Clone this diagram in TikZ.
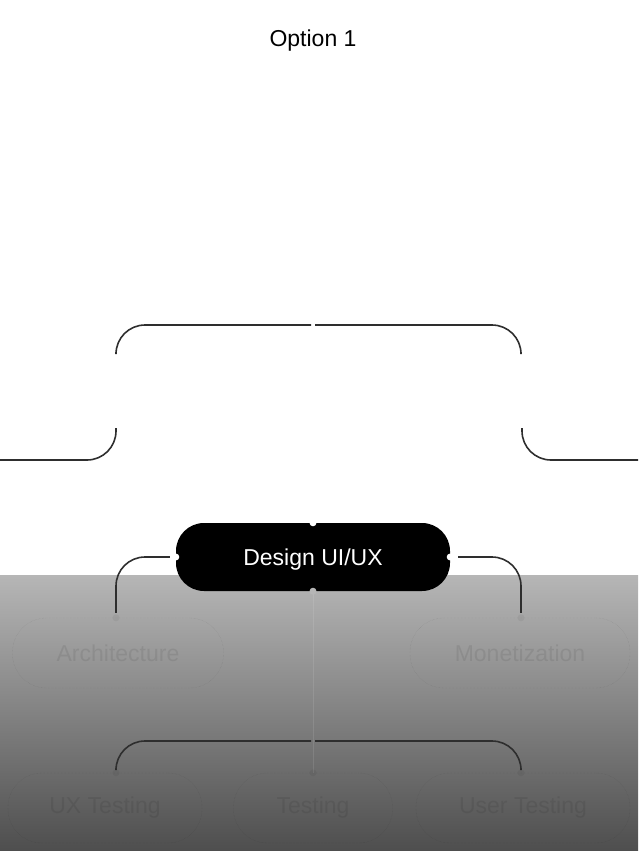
\documentclass[tikz,border=0pt]{standalone}
\usepackage{fontspec}
\setmainfont{Liberation Sans}
\usepackage{tikz}
\usetikzlibrary{positioning}
\definecolor{linegray}{HTML}{2E2E2E}
\definecolor{fadetop}{HTML}{B6B6B6}
\definecolor{fadebot}{HTML}{4E4E4E}

\begin{document}
\begin{tikzpicture}[x=1pt,y=-1pt]
		\tikzset{pill/.style = {shape=rectangle, rounded corners=28pt, fill=black, text=white,
				minimum width=274pt, minimum height=68pt, font=\fontsize{23}{26}\selectfont}}
		\tikzset{ghost/.style = {shape=rectangle, rounded corners=34pt, draw=black, densely dotted,
				draw opacity=.12, text opacity=.08, minimum height=70pt, font=\fontsize{23}{26}\selectfont}}
		\tikzset{edge/.style = {draw=linegray, line width=1.6pt, rounded corners=29pt}}
		\tikzset{notch/.style = {shape=circle, fill=white, inner sep=0pt, minimum size=7pt}}
		\useasboundingbox (0,0) rectangle (638,851);
		% fade
		\shade[top color=fadetop, bottom color=fadebot] (0,575) rectangle (638,851);
		% vertices
		\node[font=\fontsize{23}{26}\selectfont] (title) at (313,41) {Option 1};
		\node[pill, text depth=0pt] (design) at (313,557) {Design UI/UX};
		\node[ghost, minimum width=211pt] (arch) at (118,653) {Architecture};
		\node[ghost, minimum width=220pt] (monet) at (520,653) {Monetization};
		\node[ghost, minimum width=194pt] (uxt) at (105,808) {UX Testing};
		\node[ghost, minimum width=159pt] (test) at (313,808) {Testing};
		\node[ghost, minimum width=214pt] (usert) at (523,808) {User Testing};
		\coordinate (hub) at (313,325);
		\coordinate (upL) at (116,352);
		\coordinate (upR) at (521,352);
		\coordinate (lowL) at (116,428);
		\coordinate (lowR) at (522,428);
		\coordinate (farL) at (0,460);
		\coordinate (farR) at (638,460);
		\coordinate (bhub) at (313,741);
		% edges
		\draw[white, opacity=.1, line width=1pt] (design.south) -- (test.north);
		\draw[edge, shorten >=2pt] (upL) |- (hub);
		\draw[edge, shorten <=2pt] (hub) -| (upR);
		\draw[edge] (lowL) |- (farL);
		\draw[edge] (lowR) |- (farR);
		\draw[edge, shorten <=6pt, shorten >=5pt] (design.west) -| ([xshift=-2pt]arch.north);
		\draw[edge, shorten <=8pt, shorten >=5pt] (design.east) -| ([xshift=1pt]monet.north);
		\draw[edge, shorten <=2pt, shorten >=5pt] (bhub) -| ([xshift=11pt]uxt.north);
		\draw[edge, shorten <=2pt, shorten >=5pt] (bhub) -| ([xshift=-2pt]usert.north);
		% dots
		\foreach \a in {north,west,east}
			\node[notch] (dot-\a) at (design.\a) {};
		\node[notch, fill=fadetop] (dot-south) at (design.south) {};
		\foreach \n/\dx in {arch/-2,monet/1,uxt/11,test/0,usert/-2}
			\node[notch, fill=black, opacity=.05] (pin-\n) at ([xshift=\dx pt]\n.north) {};
\end{tikzpicture}
\end{document}
